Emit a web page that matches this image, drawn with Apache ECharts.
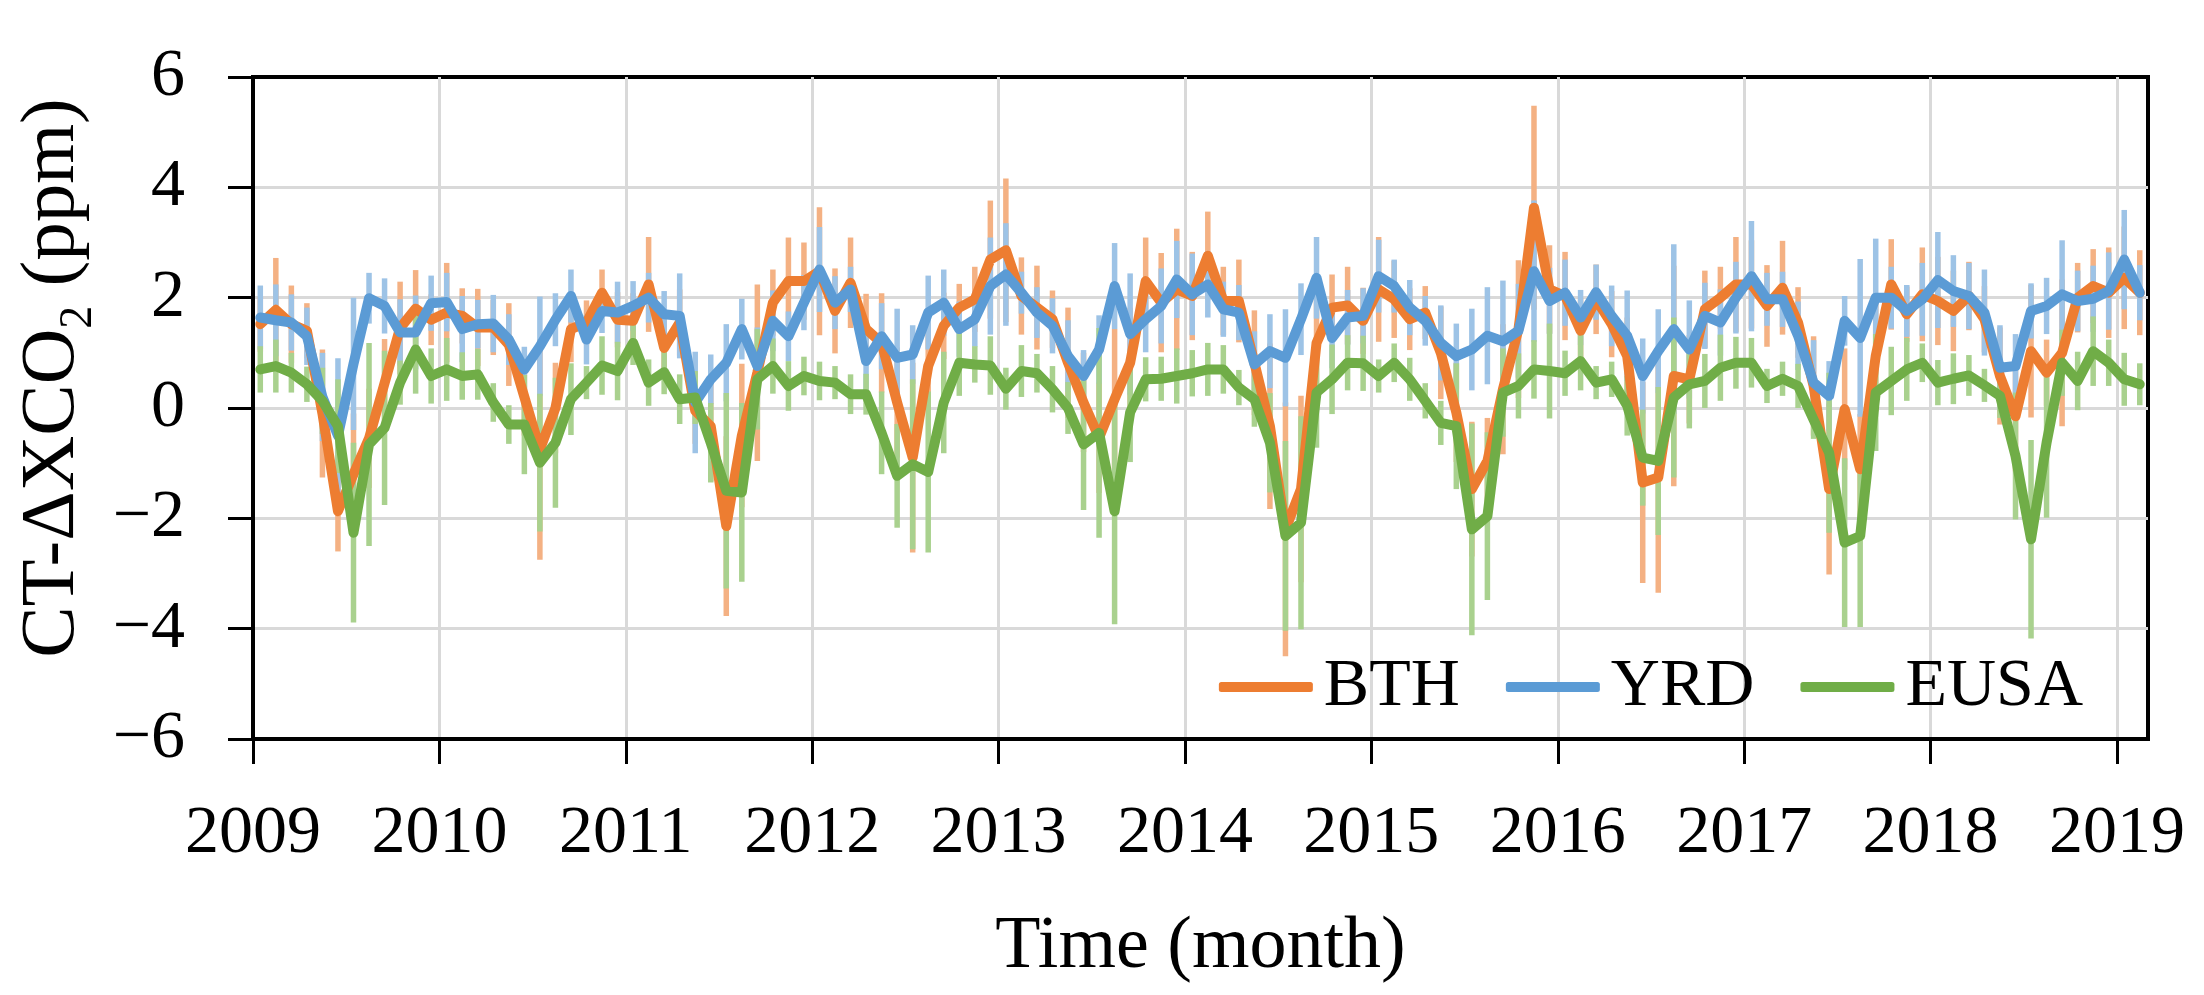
<!DOCTYPE html>
<html><head><meta charset="utf-8">
<script src="https://cdn.jsdelivr.net/npm/echarts@6/dist/echarts.min.js"></script>
<style>html,body{margin:0;padding:0;background:#fff}#c{width:2204px;height:995px}</style>
</head><body><div id="c"></div>
<script>
// Monthly data, Jan 2009 .. Feb 2019 (122 months), plotted at mid-month
const firstYear = 2009;
const monthCount = 122;
const months = Array.from({length: monthCount}, (_, i) =>
  (firstYear + Math.floor(i / 12)) + '-' + String(i % 12 + 1).padStart(2, '0'));
const yearTicks = [2009, 2010, 2011, 2012, 2013, 2014, 2015, 2016, 2017, 2018, 2019];
const seriesNames = ['BTH', 'YRD', 'EUSA'];

const bth = [1.52,1.78,1.52,1.40,-0.10,-1.87,-1.20,-0.55,0.45,1.45,1.80,1.60,
  1.73,1.67,1.46,1.46,1.15,0.20,-0.75,0.00,1.43,1.55,2.09,1.60,
  1.58,2.24,1.09,1.55,-0.05,-0.33,-2.14,-0.50,0.64,1.91,2.30,2.30,
  2.48,1.76,2.27,1.43,1.18,0.10,-0.90,0.76,1.49,1.82,1.97,2.69,
  2.86,2.03,1.82,1.61,0.82,0.10,-0.54,0.16,0.82,2.30,1.91,2.15,
  2.03,2.76,1.94,1.94,0.82,-0.33,-2.20,-1.47,1.18,1.82,1.86,1.58,
  2.15,1.97,1.61,1.73,1.00,-0.08,-1.47,-0.96,0.34,1.43,3.63,2.15,
  2.03,1.40,1.97,1.52,0.94,-1.35,-1.26,0.58,0.52,1.79,2.00,2.24,
  2.24,1.85,2.18,1.55,0.40,-1.47,-0.02,-1.11,0.94,2.24,1.70,2.06,
  1.94,1.76,2.03,1.61,0.58,-0.15,1.03,0.64,1.00,2.00,2.21,2.09,
  2.36,2.09];
const bthErr = [0.5,0.94,0.7,0.5,1.16,0.73,1.1,0.9,0.8,0.84,0.7,0.46,
  0.9,0.5,0.7,0.5,0.75,0.7,2.0,0.82,0.6,0.4,0.42,0.5,
  0.5,0.86,0.5,0.6,0.6,1.0,1.63,1.3,1.6,0.6,0.79,0.7,
  1.16,0.77,0.82,0.64,0.9,1.0,1.72,0.8,0.6,0.43,0.59,1.07,
  1.3,0.7,0.76,0.52,1.0,0.9,1.0,1.27,1.0,0.79,0.9,1.1,
  0.8,0.8,0.62,0.75,0.95,1.5,2.3,1.69,0.9,0.6,0.7,0.6,
  0.95,0.7,0.56,0.48,0.84,0.9,1.22,0.78,1.18,1.25,1.85,0.8,
  0.8,0.6,0.63,0.6,0.7,1.82,2.09,2.0,0.8,0.7,0.56,0.86,
  0.8,0.74,0.85,0.64,0.9,1.55,1.1,1.0,1.0,0.82,0.5,0.85,
  0.8,0.73,0.62,0.6,0.88,1.0,1.2,0.6,1.33,0.63,0.67,0.82,
  0.93,0.77];

const yrd = [1.64,1.59,1.55,1.30,0.20,-0.50,0.80,1.99,1.85,1.37,1.37,1.90,
  1.92,1.43,1.52,1.53,1.24,0.70,1.12,1.60,2.03,1.24,1.76,1.73,
  1.85,2.00,1.70,1.67,0.10,0.52,0.82,1.43,0.76,1.58,1.30,1.91,
  2.51,1.91,2.15,0.85,1.30,0.91,0.97,1.73,1.91,1.43,1.61,2.21,
  2.42,2.09,1.73,1.49,0.94,0.58,1.06,2.21,1.34,1.61,1.85,2.33,
  2.06,2.24,1.79,1.73,0.79,1.03,0.91,1.61,2.36,1.27,1.64,1.67,
  2.39,2.21,1.82,1.58,1.18,0.94,1.06,1.31,1.21,1.40,2.48,1.94,
  2.09,1.64,2.10,1.67,1.31,0.58,1.03,1.43,1.06,1.67,1.55,2.00,
  2.39,1.97,1.97,1.31,0.46,0.22,1.58,1.27,2.00,2.00,1.76,1.97,
  2.32,2.12,2.03,1.73,0.73,0.76,1.76,1.85,2.06,1.94,1.98,2.12,
  2.69,2.09];
const yrdErr = [0.58,0.65,0.51,0.52,0.8,1.4,1.2,0.46,0.5,0.6,0.67,0.5,
  0.53,0.6,0.44,0.52,0.46,0.41,0.9,0.48,0.48,0.45,0.4,0.56,
  0.45,0.45,0.42,0.77,0.92,0.45,0.7,0.55,0.7,0.55,0.45,0.5,
  0.77,0.48,0.41,0.6,0.6,0.89,0.53,0.67,0.6,0.5,0.5,0.88,
  0.93,0.38,0.46,0.5,0.65,0.47,0.62,0.78,1.1,0.6,0.68,0.7,
  0.74,0.6,0.5,0.5,0.6,0.67,0.88,0.65,0.74,0.55,0.5,0.5,
  0.66,0.48,0.5,0.45,0.68,0.59,0.74,0.88,1.1,0.85,1.28,0.6,
  0.6,0.5,0.5,0.55,0.82,0.68,0.76,1.54,0.89,0.6,0.6,0.65,
  1.0,0.48,0.5,0.62,0.77,0.63,0.45,1.43,1.07,0.56,0.47,0.66,
  0.87,0.65,0.6,0.78,0.77,0.58,0.5,0.51,0.98,0.55,0.6,0.7,
  0.9,0.5];

const eusa = [0.70,0.76,0.64,0.43,0.13,-0.33,-2.26,-0.66,-0.36,0.46,1.06,0.58,
  0.70,0.58,0.61,0.10,-0.30,-0.30,-0.99,-0.63,0.16,0.46,0.77,0.67,
  1.18,0.46,0.65,0.16,0.19,-0.63,-1.50,-1.53,0.52,0.76,0.40,0.58,
  0.49,0.46,0.25,0.25,-0.45,-1.23,-1.02,-1.16,0.10,0.82,0.79,0.77,
  0.35,0.67,0.63,0.34,0.00,-0.66,-0.45,-1.87,-0.08,0.52,0.53,0.58,
  0.63,0.70,0.70,0.37,0.16,-0.63,-2.32,-2.08,0.28,0.52,0.82,0.81,
  0.58,0.82,0.52,0.13,-0.27,-0.33,-2.20,-1.96,0.28,0.40,0.70,0.67,
  0.63,0.85,0.46,0.52,0.04,-0.90,-0.96,0.19,0.43,0.49,0.73,0.82,
  0.82,0.40,0.53,0.40,-0.21,-0.81,-2.44,-2.32,0.28,0.49,0.70,0.82,
  0.46,0.53,0.59,0.41,0.22,-0.87,-2.38,-0.63,0.82,0.49,1.03,0.82,
  0.52,0.43];
const eusaErr = [0.42,0.48,0.36,0.32,0.6,0.85,1.63,1.84,1.4,0.4,0.8,0.5,
  0.57,0.43,0.46,0.35,0.35,0.9,1.25,1.18,0.65,0.3,0.53,0.53,
  0.4,0.42,0.4,0.45,0.48,0.72,1.77,1.62,0.91,0.5,0.45,0.35,
  0.35,0.3,0.36,0.37,0.75,0.94,1.54,1.46,0.92,0.6,0.33,0.53,
  0.38,0.47,0.35,0.42,0.47,1.19,1.9,2.05,0.9,0.4,0.4,0.5,
  0.42,0.48,0.44,0.32,0.5,0.9,1.72,1.93,1.0,0.63,0.5,0.5,
  0.3,0.35,0.39,0.32,0.4,1.14,1.92,1.52,0.8,0.59,0.53,0.86,
  0.41,0.53,0.3,0.32,0.54,0.87,1.34,1.45,0.8,0.49,0.6,0.47,
  0.45,0.31,0.31,0.4,0.35,1.45,1.53,1.65,1.06,0.62,0.57,0.35,
  0.41,0.46,0.37,0.3,0.4,1.15,1.8,1.36,0.6,0.53,0.63,0.42,
  0.48,0.38];

const lineColors = ['#ED7D31', '#5B9BD5', '#70AD47'];
const barColors = ['#F4B183', '#9DC3E6', '#A9D18E'];
const FONT = '"Liberation Serif", "Times New Roman", serif';

function monthPos(m) {
  const [y, mo] = m.split('-').map(Number);
  return y + (mo - 1 + 0.47) / 12;
}
const xs = months.map(monthPos);
const values = [bth, yrd, eusa];
const errs = [bthErr, yrdErr, eusaErr];

function errRender(color) {
  return function (params, api) {
    const x = api.value(0);
    const p1 = api.coord([x, api.value(1)]);
    const p2 = api.coord([x, api.value(2)]);
    return {type: 'line', shape: {x1: p1[0], y1: p1[1], x2: p2[0], y2: p2[1]},
      style: {stroke: color, lineWidth: 5.5, lineCap: 'butt'}};
  };
}

const series = [];
values.forEach((vals, k) => {
  series.push({
    type: 'custom', name: seriesNames[k] + ' error', renderItem: errRender(barColors[k]),
    data: vals.map((v, i) => [xs[i], v - errs[k][i], v + errs[k][i]]),
    encode: {x: 0, y: [1, 2]}, z: 2, silent: true
  });
});
values.forEach((vals, k) => {
  series.push({
    type: 'line', name: seriesNames[k], data: vals.map((v, i) => [xs[i], v]),
    showSymbol: false, symbol: 'none', z: 3,
    lineStyle: {color: lineColors[k], width: 10, join: 'round', cap: 'round'},
    itemStyle: {color: lineColors[k]}
  });
});

const chart = echarts.init(document.getElementById('c'), null, {renderer: 'canvas'});
chart.setOption({
  animation: false,
  backgroundColor: '#fff',
  grid: {left: 253, right: 56, top: 77, bottom: 256, show: true,
    borderColor: '#000', borderWidth: 4, containLabel: false, outerBoundsMode: 'none'},
  legend: {
    data: seriesNames, right: 121, top: 653, padding: 0, itemGap: 46,
    itemWidth: 94, itemHeight: 10, icon: 'roundRect',
    textStyle: {fontFamily: FONT, fontSize: 68, color: '#000', padding: [0, 0, 0, 6]}
  },
  xAxis: {
    type: 'value', min: 2009, max: 2019 + 2 / 12,
    axisLine: {onZero: false, lineStyle: {color: '#000', width: 4}},
    axisTick: {customValues: yearTicks, length: 25, lineStyle: {color: '#000', width: 3}},
    axisLabel: {customValues: yearTicks, formatter: v => String(Math.round(v)),
      fontFamily: FONT, fontSize: 68, color: '#000', margin: 61},
    splitLine: {show: true, lineStyle: {color: '#D9D9D9', width: 3}},
    name: 'Time (month)', nameLocation: 'middle', nameGap: 172,
    nameTextStyle: {fontFamily: FONT, fontSize: 74, color: '#000'}
  },
  yAxis: {
    type: 'value', min: -6, max: 6, interval: 2,
    axisLine: {show: true, onZero: false, lineStyle: {color: '#000', width: 4}},
    axisTick: {show: true, length: 25, lineStyle: {color: '#000', width: 3}},
    axisLabel: {formatter: v => (v < 0 ? '\u2212' + Math.abs(v) : String(v)),
      fontFamily: FONT, fontSize: 68, color: '#000', margin: 68},
    splitLine: {show: true, showMinLine: false, showMaxLine: false,
      lineStyle: {color: '#D9D9D9', width: 3}},
    name: 'CT-\u0394XCO{s|2} (ppm)', nameLocation: 'middle', nameGap: 133,
    nameTextStyle: {fontFamily: FONT, fontSize: 77, color: '#000', padding: [0, 0, 0, 60],
      rich: {s: {fontFamily: FONT, fontSize: 46, color: '#000', verticalAlign: 'bottom', padding: [0, 0, -10, 0]}}}
  },
  series: series
});
</script>
</body></html>
